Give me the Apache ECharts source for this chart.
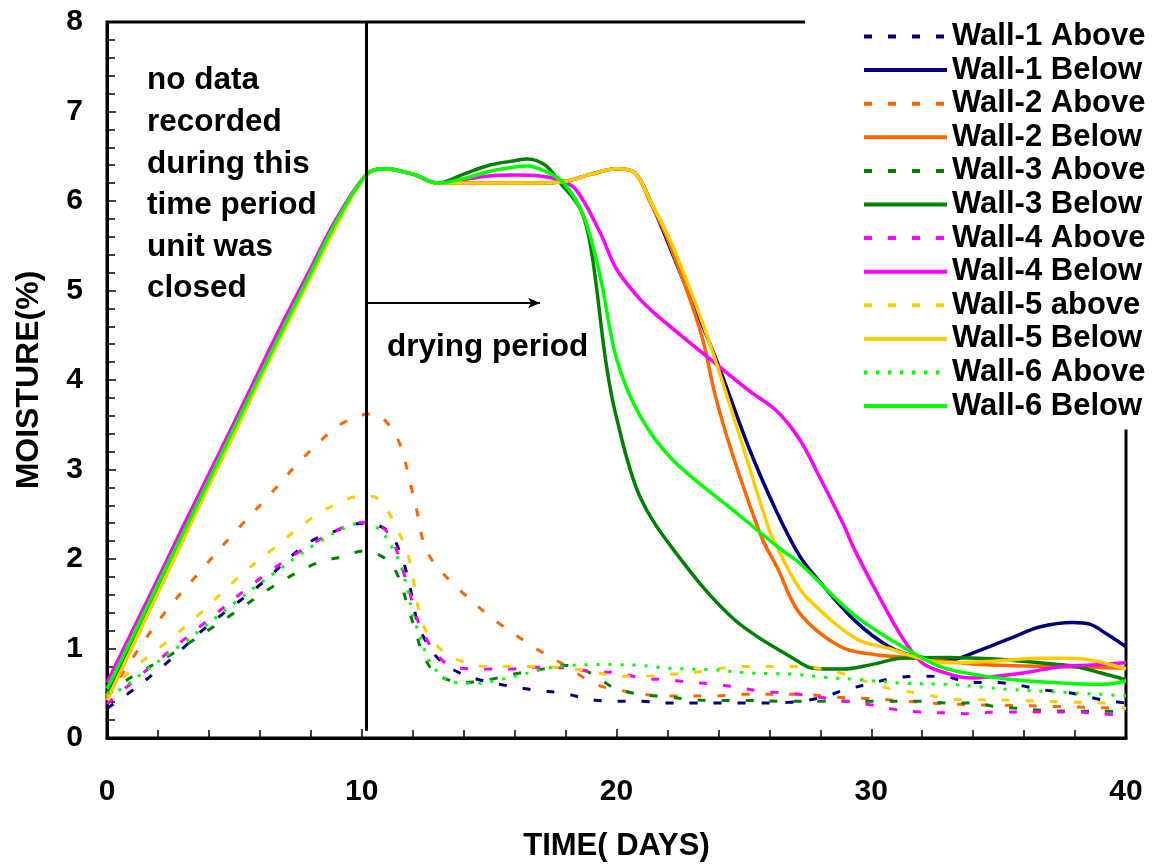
<!DOCTYPE html>
<html>
<head>
<meta charset="utf-8">
<script src="https://cdn.jsdelivr.net/npm/echarts@6/dist/echarts.min.js"></script>
<style>
  html, body { margin: 0; padding: 0; background: #fff; }
  #chart { width: 1152px; height: 867px; }
</style>
</head>
<body>
<div id="chart"></div>
<script>
// 数据: [天数, 含水率%]
var wall1Above = [[0,0.33],[0.8,0.49],[2.35,0.84],[3.9,1.24],[6,1.71],[7.85,2.17],[9.15,2.33],[10.05,2.4],[11,2.32],[11.5,2.08],[11.8,1.8],[12.0,1.54],[12.2,1.28],[12.6,1.04],[13.1,0.86],[13.9,0.72],[14.9,0.63],[15.8,0.58],[16.7,0.54],[17.9,0.5],[19,0.43],[20,0.41],[21,0.41],[22,0.39],[23,0.39],[24,0.39],[25,0.39],[26.8,0.4],[28,0.45],[29,0.54],[30,0.61],[30.9,0.67],[31.9,0.69],[33,0.68],[33.9,0.62],[34.9,0.62],[35.8,0.59],[36.7,0.54],[37.9,0.5],[39,0.43],[40,0.39]];
var wall1Below = [[0,0.5],[1,1.08],[2,1.67],[3,2.26],[4,2.85],[5,3.44],[6,4.03],[7,4.62],[8,5.19],[9,5.75],[10.2,6.3],[10.9,6.36],[12,6.3],[13,6.2],[14,6.2],[15,6.2],[16,6.2],[17,6.2],[18,6.22],[19,6.3],[20,6.36],[20.7,6.32],[21.3,6.02],[22.6,5.13],[23.9,4.24],[25.2,3.24],[26.3,2.52],[27.2,2.03],[28,1.74],[29.4,1.3],[30.7,1.02],[31.8,0.91],[33.2,0.88],[34,0.95],[35.6,1.13],[36.6,1.24],[37.9,1.29],[38.6,1.27],[39.2,1.17],[40,1.02]];
var wall2Above = [[0,0.45],[1.3,1.02],[2.35,1.43],[3.65,1.86],[4.95,2.28],[6.3,2.69],[7.6,3.1],[9.0,3.47],[9.9,3.6],[10.5,3.62],[11,3.52],[11.5,3.28],[11.97,2.77],[12.2,2.49],[12.4,2.21],[12.8,1.97],[13.86,1.65],[15.3,1.3],[16.9,0.99],[18.05,0.8],[19.1,0.61],[20,0.54],[22,0.47],[23.9,0.47],[24.85,0.49],[27.2,0.49],[28.1,0.47],[29,0.45],[30,0.44],[33,0.38],[36.2,0.36],[40,0.33]];
var wall2Below = [[0,0.48],[1,1.06],[2,1.65],[3,2.24],[4,2.83],[5,3.42],[6,4.01],[7,4.6],[8,5.17],[9,5.74],[10.2,6.3],[10.9,6.36],[12,6.3],[13,6.2],[14,6.2],[15,6.2],[16,6.2],[17,6.2],[18,6.22],[19,6.3],[20,6.36],[20.7,6.32],[21.3,6.0],[22.0,5.58],[23.3,4.54],[23.9,3.8],[24.6,3.13],[25.7,2.24],[26.3,1.91],[27.2,1.39],[28.8,1.02],[30.2,0.93],[31.9,0.89],[34.3,0.82],[36.9,0.8],[40,0.78]];
var wall3Above = [[0,0.47],[0.9,0.67],[2.5,0.93],[4.95,1.39],[6.5,1.69],[8.2,1.95],[9.3,2.03],[10.05,2.09],[11,1.99],[11.5,1.76],[11.8,1.47],[12.1,1.21],[12.4,0.94],[12.95,0.71],[14.05,0.62],[14.97,0.65],[15.9,0.71],[16.9,0.76],[18.05,0.81],[19.1,0.71],[19.9,0.56],[20.9,0.49],[22,0.46],[22.9,0.43],[23.9,0.42],[24.85,0.42],[26.8,0.41],[28.1,0.41],[30,0.41],[31.9,0.41],[33,0.39],[33.9,0.39],[34.9,0.35],[35.8,0.33],[36.7,0.31],[37.9,0.3],[39,0.3],[40,0.29]];
var wall3Below = [[0,0.5],[1,1.08],[2,1.67],[3,2.26],[4,2.85],[5,3.44],[6,4.03],[7,4.62],[8,5.19],[9,5.75],[10.2,6.3],[10.9,6.36],[12,6.3],[13,6.2],[14,6.3],[15,6.4],[16,6.45],[16.5,6.47],[17.2,6.4],[17.8,6.2],[18.6,5.9],[19,5.47],[19.6,4.17],[20.0,3.58],[20.9,2.71],[22.3,2.08],[24.6,1.33],[27.1,0.86],[27.7,0.78],[28.9,0.77],[30,0.82],[31.2,0.89],[33,0.9],[35,0.88],[36.6,0.84],[38,0.8],[39.1,0.72],[40,0.65]];
var wall4Above = [[0,0.38],[1.6,0.77],[3.8,1.28],[6,1.78],[7.6,2.09],[9.3,2.36],[10.05,2.41],[11,2.3],[11.7,1.8],[12.3,1.24],[13.15,0.87],[13.9,0.78],[14.9,0.77],[15.8,0.77],[16.7,0.79],[18.05,0.78],[19.1,0.74],[20,0.73],[21,0.67],[22,0.65],[23,0.62],[23.9,0.6],[24.85,0.56],[25.75,0.52],[26.8,0.5],[28.1,0.45],[29,0.41],[30,0.37],[30.9,0.32],[31.9,0.29],[33,0.28],[33.9,0.27],[34.9,0.29],[36.7,0.29],[37.9,0.29],[39,0.27],[40,0.25]];
var wall4Below = [[0,0.62],[1,1.2],[2,1.78],[3,2.37],[4,2.95],[5,3.53],[6,4.12],[7,4.7],[8,5.25],[9,5.8],[10.2,6.3],[10.9,6.36],[12,6.3],[13,6.2],[14,6.24],[15,6.28],[16,6.29],[17,6.28],[17.7,6.24],[18.4,6.13],[19.35,5.65],[20,5.24],[20.9,4.91],[21.6,4.72],[23.3,4.32],[25.2,3.88],[26.3,3.65],[27.2,3.33],[28,2.9],[28.9,2.39],[29.3,2.13],[30.1,1.69],[31.2,1.13],[32,0.84],[33,0.72],[33.9,0.67],[35.8,0.72],[37.5,0.8],[39,0.82],[40,0.84]];
var wall5Above = [[0,0.47],[0.8,0.72],[2.2,1.04],[3.65,1.39],[5.1,1.78],[6.5,2.11],[8.1,2.47],[8.9,2.6],[9.9,2.7],[10.4,2.7],[10.85,2.61],[11.4,2.33],[11.8,2.06],[12.0,1.8],[12.4,1.27],[13.1,0.99],[13.9,0.86],[14.9,0.8],[16.7,0.8],[18.05,0.78],[19.1,0.74],[20,0.69],[21,0.69],[22,0.71],[23,0.73],[23.9,0.77],[24.85,0.8],[26.8,0.8],[28.1,0.77],[29,0.71],[30,0.61],[30.9,0.54],[31.9,0.5],[33,0.44],[33.9,0.43],[35.8,0.42],[36.7,0.41],[37.9,0.4],[39.1,0.39],[40,0.33]];
var wall5Below = [[0,0.42],[1,1.02],[2,1.62],[3,2.22],[4,2.82],[5,3.4],[6,4.0],[7,4.58],[8,5.15],[9,5.72],[10.2,6.3],[10.9,6.36],[12,6.3],[13,6.2],[14,6.2],[15,6.2],[16,6.2],[17,6.2],[18,6.22],[19,6.3],[20,6.36],[20.7,6.32],[21.3,6.02],[22.2,5.5],[23.5,4.54],[24.85,3.36],[26.0,2.32],[26.4,2.08],[26.9,1.8],[27.5,1.56],[29.4,1.11],[30.7,1.0],[31.9,0.89],[33,0.84],[34.9,0.86],[36.6,0.89],[37.9,0.89],[38.8,0.86],[40,0.77]];
var wall6Above = [[0,0.5],[0.4,0.52],[1.6,0.77],[3.0,1.06],[4.95,1.5],[6.5,1.83],[8.2,2.17],[9.4,2.36],[10.05,2.4],[10.7,2.33],[11.1,2.17],[11.5,1.95],[11.8,1.65],[12.0,1.38],[12.3,1.13],[12.7,0.84],[13.5,0.63],[14.5,0.61],[15.4,0.65],[16.3,0.71],[17.3,0.78],[18.2,0.81],[19.1,0.82],[20,0.82],[21,0.81],[22,0.78],[22.9,0.77],[23.9,0.76],[25,0.73],[25.9,0.72],[27.1,0.71],[28.1,0.68],[29.6,0.65],[31.4,0.61],[33,0.6],[34.3,0.57],[35.6,0.54],[36.9,0.52],[38.2,0.5],[39.4,0.48],[40,0.47]];
var wall6Below = [[0,0.55],[1,1.13],[2,1.72],[3,2.3],[4,2.88],[5,3.47],[6,4.05],[7,4.63],[8,5.2],[9,5.77],[10.2,6.3],[10.9,6.36],[12,6.3],[13,6.2],[14,6.25],[15,6.33],[16,6.38],[16.5,6.39],[17.2,6.33],[17.9,6.21],[18.7,5.84],[19.35,5.17],[20.0,4.24],[20.9,3.61],[22.2,3.11],[24.6,2.54],[26.4,2.12],[27.2,1.95],[29.4,1.36],[31.9,0.91],[33,0.77],[35.6,0.65],[37.9,0.61],[39.1,0.6],[40,0.64]];

var seriesNames = ['Wall-1 Above','Wall-1 Below','Wall-2 Above','Wall-2 Below','Wall-3 Above','Wall-3 Below',
                   'Wall-4 Above','Wall-4 Below','Wall-5 above','Wall-5 Below','Wall-6 Above','Wall-6 Below'];
var seriesData = [wall1Above, wall1Below, wall2Above, wall2Below, wall3Above, wall3Below,
                  wall4Above, wall4Below, wall5Above, wall5Below, wall6Above, wall6Below];
var seriesColors = ['#000080','#000080','#FF6600','#FF6600','#008000','#008000',
                    '#FF00FF','#FF00FF','#FFCC00','#FFCC00','#00FF00','#00FF00'];

// 标注线位置
var closedDay = 10.17;
var arrowEndDay = 17.0;
var arrowLevel = 4.86;

var font = 'Arial, "Liberation Sans", Helvetica, sans-serif';

var series = [];
for (var i = 0; i < seriesData.length; i++) {
  var isAbove = i % 2 === 0;
  var dash = 'solid';
  if (isAbove) dash = (i === 10) ? [3, 9] : [8, 16];
  series.push({
    name: seriesNames[i],
    type: 'line',
    smooth: 0.35,
    symbol: 'none',
    data: seriesData[i],
    color: seriesColors[i],
    lineStyle: { color: seriesColors[i], width: isAbove ? 3 : 3.5, type: dash },
    emphasis: { disabled: true }
  });
}
// 竖线和箭头
series[0].markLine = {
  silent: true,
  animation: false,
  label: { show: false },
  data: [
    [{ coord: [closedDay, 0.08], symbol: 'none', lineStyle: { color: '#000', width: 3, type: 'solid' } },
     { coord: [closedDay, 8], symbol: 'none' }],
    [{ coord: [closedDay, arrowLevel], symbol: 'none', lineStyle: { color: '#000', width: 2, type: 'solid' } },
     { coord: [arrowEndDay, arrowLevel], symbol: 'arrow', symbolSize: [8, 12] }]
  ]
};

var myChart = echarts.init(document.getElementById('chart'));
var option = {
  backgroundColor: '#fff',
  animation: false,
  grid: { left: 107, right: 26, top: 22, bottom: 125, show: true, borderColor: '#000', borderWidth: 3, backgroundColor: 'transparent' },
  legend: {
    orient: 'vertical',
    left: 805,
    top: 14,
    padding: [7, 2, 8, 57],
    backgroundColor: '#fff',
    itemWidth: 83,
    itemHeight: 14,
    itemGap: 2.6,
    selectedMode: false,
    data: seriesNames,
    itemStyle: { opacity: 0 },
    lineStyle: { width: 4 },
    textStyle: { color: '#000', fontSize: 31, fontWeight: 'bold', fontFamily: font, lineHeight: 30 }
  },
  xAxis: {
    type: 'value',
    min: 0,
    max: 40,
    interval: 10,
    name: 'TIME( DAYS)',
    nameLocation: 'middle',
    nameGap: 93,
    nameTextStyle: { color: '#000', fontSize: 31, fontWeight: 'bold', fontFamily: font },
    axisLine: { onZero: false, lineStyle: { color: '#000', width: 3 } },
    axisTick: { inside: true, length: 9, lineStyle: { color: '#000', width: 1.5 } },
    minorTick: { show: true, splitNumber: 5, length: 8, lineStyle: { color: '#000', width: 1.5 } },
    splitLine: { show: false },
    axisLabel: { margin: 39, color: '#000', fontSize: 30, fontWeight: 'bold', fontFamily: font }
  },
  yAxis: {
    type: 'value',
    min: 0,
    max: 8,
    interval: 1,
    name: 'MOISTURE(%)',
    nameLocation: 'middle',
    nameGap: 62,
    nameTextStyle: { color: '#000', fontSize: 32, fontWeight: 'bold', fontFamily: font },
    axisLine: { show: true, lineStyle: { color: '#000', width: 3 } },
    axisTick: { inside: true, length: 9, lineStyle: { color: '#000', width: 1.5 } },
    minorTick: { show: true, splitNumber: 5, length: 8, lineStyle: { color: '#000', width: 1.5 } },
    splitLine: { show: false },
    axisLabel: { margin: 24, color: '#000', fontSize: 30, fontWeight: 'bold', fontFamily: font }
  },
  graphic: [
    {
      type: 'text',
      left: 147,
      top: 60,
      silent: true,
      style: {
        text: 'no data\nrecorded\nduring this\ntime period\nunit was\nclosed',
        fill: '#000',
        font: 'bold 31.5px ' + font,
        lineHeight: 41.6
      }
    },
    {
      type: 'text',
      left: 387,
      top: 331,
      silent: true,
      style: { text: 'drying period', fill: '#000', font: 'bold 31.5px ' + font }
    }
  ],
  series: series
};
myChart.setOption(option);
</script>
</body>
</html>
